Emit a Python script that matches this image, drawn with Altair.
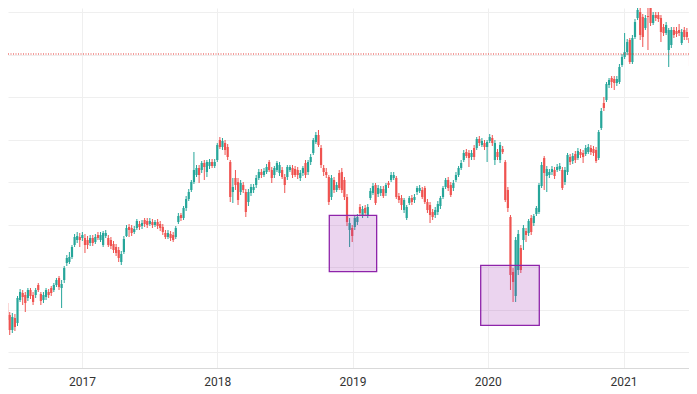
import altair as alt
import pandas as pd

# ---- data (weekly candles, arbitrary price units) ----
week_start = "2016-05-30"

open_ = [
    80, 65, 65, 53, 38, 50, 45, 68, 75, 73,
    70, 78, 73, 73, 83, 74, 68, 71, 76, 80,
    78, 83, 90, 80, 88, 105, 106, 111, 123, 128,
    131, 130, 130, 128, 125, 130, 126, 133, 128, 123,
    132, 130, 128, 124, 121, 118, 106, 116, 132, 141,
    140, 136, 140, 144, 142, 148, 147, 144, 146, 143,
    146, 144, 141, 135, 131, 134, 133, 131, 146, 153,
    150, 160, 169, 178, 186, 193, 200, 198, 205, 196,
    202, 206, 202, 208, 228, 221, 225, 221, 206, 176,
    190, 186, 176, 183, 176, 166, 175, 178, 183, 190,
    196, 193, 196, 206, 198, 193, 198, 195, 198, 191,
    191, 198, 200, 199, 198, 190, 195, 205, 196, 206,
    215, 226, 233, 220, 200, 196, 191, 171, 188, 178,
    195, 196, 188, 171, 138, 140, 141, 146, 161, 153,
    160, 153, 170, 175, 183, 174, 175, 179, 175, 185,
    188, 190, 190, 172, 170, 158, 150, 165, 170, 168,
    176, 177, 178, 180, 166, 163, 156, 153, 156, 162,
    171, 181, 188, 183, 180, 188, 193, 200, 208, 216,
    215, 211, 220, 220, 229, 223, 225, 221, 227, 230,
    208, 216, 208, 219, 206, 178, 151, 96, 72, 98,
    120, 128, 137, 135, 150, 145, 154, 156, 182, 210,
    192, 193, 196, 198, 198, 199, 198, 186, 196, 211,
    207, 214, 210, 216, 215, 214, 216, 220, 219, 218,
    210, 240, 265, 268, 283, 290, 289, 285, 286, 303,
    311, 316, 328, 306, 331, 350, 356, 351, 340, 352,
    360, 345, 353, 353, 350, 341, 335, 318, 323, 338,
    337, 338, 325, 338, 336, 330, 323,
]

high = [
    85, 73, 68, 56, 55, 54, 72, 79, 78, 76,
    80, 80, 76, 80, 85, 76, 76, 80, 79, 82,
    85, 90, 92, 88, 102, 113, 116, 123, 134, 136,
    135, 136, 134, 132, 133, 133, 134, 136, 136, 137,
    138, 133, 131, 127, 124, 121, 117, 132, 143, 144,
    143, 142, 149, 147, 148, 150, 150, 150, 149, 148,
    149, 147, 144, 138, 138, 137, 136, 142, 155, 155,
    162, 172, 179, 188, 216, 203, 203, 207, 208, 208,
    209, 209, 209, 225, 231, 230, 228, 224, 208, 190,
    198, 190, 188, 186, 179, 179, 184, 184, 193, 199,
    199, 200, 204, 208, 201, 202, 207, 206, 201, 194,
    203, 203, 203, 202, 201, 198, 202, 208, 208, 214,
    230, 236, 238, 223, 203, 200, 193, 193, 191, 186,
    198, 200, 191, 174, 150, 143, 153, 154, 164, 162,
    163, 164, 180, 185, 185, 183, 182, 182, 185, 187,
    196, 196, 192, 175, 173, 170, 163, 172, 173, 174,
    182, 183, 181, 182, 169, 166, 159, 161, 167, 172,
    182, 190, 191, 186, 188, 196, 202, 208, 218, 219,
    218, 218, 223, 231, 232, 230, 228, 228, 234, 233,
    228, 219, 226, 222, 208, 181, 153, 100, 131, 138,
    123, 143, 140, 149, 153, 154, 162, 185, 206, 212,
    202, 199, 202, 201, 204, 205, 201, 201, 215, 214,
    215, 217, 220, 219, 218, 223, 224, 223, 222, 221,
    238, 260, 271, 286, 290, 292, 292, 292, 304, 314,
    335, 329, 330, 333, 349, 368, 363, 354, 353, 366,
    363, 356, 356, 356, 353, 344, 346, 340, 341, 341,
    341, 344, 339, 341, 340, 333, 326,
]

low = [
    68, 62, 35, 33, 35, 37, 42, 66, 63, 56,
    67, 69, 63, 70, 76, 63, 65, 68, 70, 72,
    76, 81, 78, 60, 85, 102, 104, 109, 121, 125,
    121, 127, 115, 119, 122, 122, 124, 128, 126, 121,
    130, 121, 119, 115, 112, 106, 103, 114, 131, 131,
    132, 134, 138, 138, 139, 141, 140, 142, 140, 141,
    139, 137, 133, 129, 129, 127, 126, 129, 144, 147,
    148, 157, 167, 176, 184, 191, 185, 195, 188, 191,
    199, 200, 200, 206, 219, 218, 213, 208, 166, 165,
    178, 163, 173, 175, 151, 162, 172, 175, 180, 188,
    190, 191, 194, 196, 185, 190, 196, 192, 189, 175,
    188, 196, 190, 191, 189, 187, 192, 190, 193, 203,
    213, 224, 221, 200, 192, 190, 163, 168, 175, 176,
    178, 175, 168, 142, 121, 126, 138, 143, 152, 150,
    152, 150, 168, 173, 163, 171, 172, 170, 172, 180,
    186, 188, 169, 165, 158, 155, 148, 163, 163, 165,
    173, 175, 169, 164, 155, 145, 148, 150, 153, 159,
    169, 179, 177, 171, 177, 186, 191, 198, 206, 210,
    201, 208, 208, 218, 222, 221, 218, 206, 225, 222,
    203, 208, 205, 214, 166, 156, 78, 66, 66, 93,
    95, 118, 126, 132, 133, 142, 152, 154, 180, 178,
    176, 190, 193, 189, 196, 197, 178, 183, 193, 203,
    204, 205, 208, 210, 205, 212, 214, 213, 212, 205,
    208, 238, 257, 266, 280, 280, 278, 282, 284, 301,
    309, 313, 304, 304, 329, 348, 328, 321, 338, 318,
    342, 343, 347, 346, 326, 332, 333, 301, 320, 330,
    331, 332, 323, 328, 328, 302, 301,
]

close = [
    71, 71, 48, 38, 51, 41, 70, 76, 71, 65,
    78, 72, 66, 78, 78, 67, 73, 78, 73, 75,
    83, 88, 81, 84, 100, 110, 111, 121, 131, 132,
    128, 133, 123, 123, 130, 125, 131, 130, 133, 135,
    135, 123, 122, 118, 115, 110, 114, 129, 140, 138,
    135, 139, 147, 141, 145, 144, 143, 147, 143, 146,
    142, 140, 136, 131, 135, 130, 128, 140, 152, 150,
    160, 169, 176, 186, 198, 200, 193, 205, 201, 206,
    206, 202, 206, 223, 221, 227, 218, 211, 171, 181,
    183, 168, 185, 178, 156, 176, 181, 181, 190, 196,
    193, 197, 201, 198, 190, 200, 205, 203, 191, 183,
    201, 201, 193, 193, 193, 195, 200, 193, 206, 211,
    228, 233, 223, 203, 196, 193, 166, 190, 178, 183,
    180, 178, 171, 146, 145, 132, 150, 151, 155, 159,
    155, 161, 177, 182, 165, 180, 179, 172, 183, 183,
    193, 193, 171, 168, 163, 168, 161, 170, 166, 171,
    180, 180, 171, 166, 158, 153, 151, 158, 164, 170,
    180, 188, 180, 173, 185, 193, 200, 205, 215, 212,
    210, 215, 211, 229, 225, 227, 221, 226, 231, 225,
    225, 211, 223, 216, 168, 160, 93, 86, 128, 134,
    98, 140, 133, 147, 136, 152, 160, 183, 203, 195,
    199, 196, 199, 192, 201, 202, 180, 198, 213, 206,
    212, 208, 217, 213, 211, 220, 221, 216, 215, 207,
    236, 257, 260, 284, 288, 286, 285, 289, 301, 311,
    316, 326, 306, 330, 346, 358, 333, 331, 350, 351,
    345, 353, 350, 349, 336, 335, 343, 338, 338, 333,
    334, 335, 336, 331, 331, 325, 313,
]

# horizontal reference line (dotted red)
alert_level = 314

# highlighted zones (purple boxes)
zone_start = ["2018-10-30T05:00:00Z", "2019-12-12T17:00:00Z"]
zone_end = ["2019-03-07T00:00:00Z", "2020-05-18T19:00:00Z"]
zone_top = [152.7, 102.7]
zone_bottom = [96.3, 42.7]

# axis tick labels / gridlines
year_ticks = [2017, 2018, 2019, 2020, 2021]
grid_levels = [15.7, 58.2, 100.7, 143.2, 185.7, 228.2, 270.7, 313.2, 355.7]

UP = "#26a69a"
DOWN = "#ef5350"
GRID = "#efefef"

dates = pd.date_range(week_start, periods=len(close), freq="7D")
df = pd.DataFrame({
    "date": dates.strftime("%Y-%m-%dT00:00:00Z"),
    "open": open_, "high": high, "low": low, "close": close,
})
df["dir"] = ["up" if c >= o else "down" for o, c in zip(open_, close)]

zones = pd.DataFrame({"start": zone_start, "end": zone_end,
                      "top": zone_top, "bottom": zone_bottom})
level_df = pd.DataFrame({"level": [alert_level]})

x_scale = alt.Scale(
    type="utc", nice=False, padding=0,
    domain=[alt.DateTime(year=2016, month=6, date=15, hours=8, minutes=10, utc=True),
            alt.DateTime(year=2021, month=6, date=26, hours=17, utc=True)],
)
x_axis = alt.Axis(
    values=[alt.DateTime(year=y, month=1, date=1, utc=True) for y in year_ticks],
    labelExpr="utcFormat(datum.value, '%Y')",
    title=None, ticks=False, tickSize=0, labelPadding=8,
    grid=True, gridColor=GRID, gridWidth=1,
    domain=True, domainColor="#d9d9d9", domainWidth=1,
    labelFont="Roboto", labelFontSize=12, labelColor="#333333", labelAngle=0,
)
y_scale = alt.Scale(domain=[0, 360], nice=False, zero=False, padding=0)
y_axis = alt.Axis(values=grid_levels, labels=False, ticks=False, domain=False,
                  title=None, grid=True, gridColor=GRID, gridWidth=1)

color = alt.Color("dir:N", scale=alt.Scale(domain=["up", "down"], range=[UP, DOWN]),
                  legend=None)

base = alt.Chart(df)

wicks = base.mark_rule(strokeWidth=1, clip=True).encode(
    x=alt.X("date:T", scale=x_scale, axis=x_axis),
    y=alt.Y("low:Q", scale=y_scale, axis=y_axis),
    y2="high:Q",
    color=color,
)
bodies = base.mark_bar(size=2.2, clip=True).encode(
    x=alt.X("date:T", scale=x_scale, axis=x_axis),
    y=alt.Y("open:Q", scale=y_scale, axis=y_axis),
    y2="close:Q",
    color=color,
)
line = alt.Chart(level_df).mark_rule(
    color="#e53935", strokeDash=[1, 1.5], strokeWidth=1, clip=True
).encode(y=alt.Y("level:Q", scale=y_scale, axis=y_axis))

boxes = alt.Chart(zones).mark_rect(
    fill="#9c27b0", fillOpacity=0.2, stroke="#8e24aa", strokeWidth=1.3, clip=True
).encode(
    x=alt.X("start:T", scale=x_scale, axis=x_axis),
    x2="end:T",
    y=alt.Y("top:Q", scale=y_scale, axis=y_axis),
    y2="bottom:Q",
)

chart = alt.layer(wicks, bodies, line, boxes).properties(
    width=681, height=360, padding=0, background="white"
).configure_view(stroke=None)

chart.save("out.html", embed_options={"renderer": "svg", "actions": False})
